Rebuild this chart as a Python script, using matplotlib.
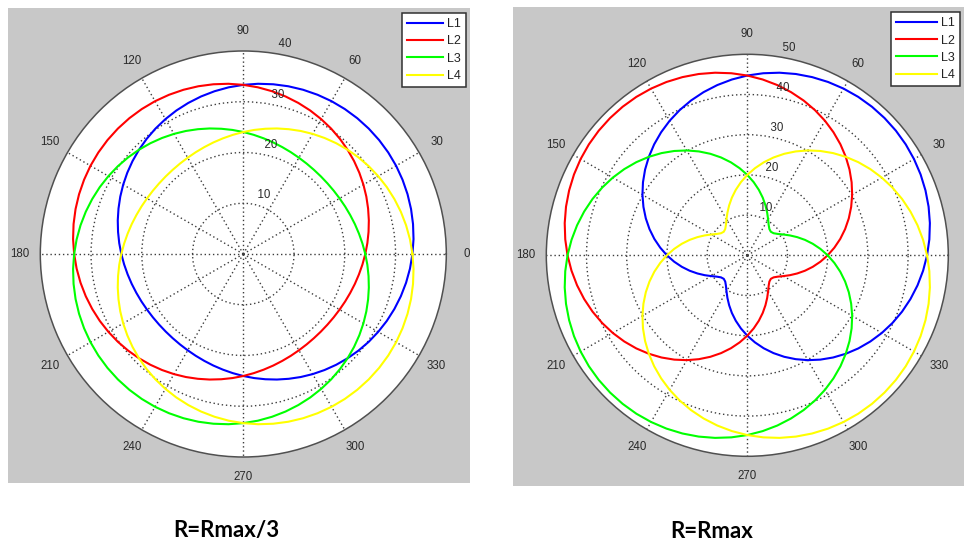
import numpy as np
import matplotlib
matplotlib.use("Agg")
import matplotlib.pyplot as plt
from matplotlib.patches import Rectangle

plt.rcParams['font.family'] = ['Liberation Sans', 'DejaVu Sans']

# ---------------- data ----------------
theta_deg = list(range(0, 360, 5))          # sample angles (deg)
series_names = ['L1', 'L2', 'L3', 'L4']
series_colors = ['#0000ff', '#ff0000', '#00ff00', '#ffff00']
angle_labels_left = list(range(0, 360, 30))
angle_labels_right = list(range(30, 360, 30))   # "0" falls outside the cropped picture
angle_grid = list(range(0, 360, 30))
captions = ['R=Rmax/3', 'R=Rmax']

left_rings = [10, 20, 30, 40]
right_rings = [10, 20, 30, 40, 50]

# R = Rmax/3
left_L1 = [33.33, 33.67, 33.96, 34.22, 34.44, 34.62, 34.77, 34.87, 34.93, 34.95,
           34.93, 34.87, 34.77, 34.62, 34.44, 34.22, 33.96, 33.67, 33.33, 32.97,
           32.57, 32.14, 31.68, 31.20, 30.69, 30.17, 29.62, 29.06, 28.49, 27.91,
           27.33, 26.75, 26.17, 25.61, 25.06, 24.54, 24.04, 23.57, 23.14, 22.76,
           22.42, 22.14, 21.91, 21.75, 21.65, 21.62,
           21.65, 21.75, 21.91, 22.14, 22.42, 22.76, 23.14, 23.57, 24.04, 24.54,
           25.06, 25.61, 26.17, 26.75, 27.33, 27.91, 28.49, 29.06, 29.62, 30.17,
           30.69, 31.20, 31.68, 32.14, 32.57, 32.97]
left_L2 = [24.04, 24.54, 25.06, 25.61, 26.17, 26.75, 27.33, 27.91, 28.49, 29.06,
           29.62, 30.17, 30.69, 31.20, 31.68, 32.14, 32.57, 32.97, 33.33, 33.67,
           33.96, 34.22, 34.44, 34.62, 34.77, 34.87, 34.93, 34.95,
           34.93, 34.87, 34.77, 34.62, 34.44, 34.22, 33.96, 33.67, 33.33, 32.97,
           32.57, 32.14, 31.68, 31.20, 30.69, 30.17, 29.62, 29.06, 28.49, 27.91,
           27.33, 26.75, 26.17, 25.61, 25.06, 24.54, 24.04, 23.57, 23.14, 22.76,
           22.42, 22.14, 21.91, 21.75, 21.65, 21.62,
           21.65, 21.75, 21.91, 22.14, 22.42, 22.76, 23.14, 23.57]
left_L3 = [24.04, 23.57, 23.14, 22.76, 22.42, 22.14, 21.91, 21.75, 21.65, 21.62,
           21.65, 21.75, 21.91, 22.14, 22.42, 22.76, 23.14, 23.57, 24.04, 24.54,
           25.06, 25.61, 26.17, 26.75, 27.33, 27.91, 28.49, 29.06, 29.62, 30.17,
           30.69, 31.20, 31.68, 32.14, 32.57, 32.97, 33.33, 33.67, 33.96, 34.22,
           34.44, 34.62, 34.77, 34.87, 34.93, 34.95,
           34.93, 34.87, 34.77, 34.62, 34.44, 34.22, 33.96, 33.67, 33.33, 32.97,
           32.57, 32.14, 31.68, 31.20, 30.69, 30.17, 29.62, 29.06, 28.49, 27.91,
           27.33, 26.75, 26.17, 25.61, 25.06, 24.54]
left_L4 = [33.33, 32.97, 32.57, 32.14, 31.68, 31.20, 30.69, 30.17, 29.62, 29.06,
           28.49, 27.91, 27.33, 26.75, 26.17, 25.61, 25.06, 24.54, 24.04, 23.57,
           23.14, 22.76, 22.42, 22.14, 21.91, 21.75, 21.65, 21.62,
           21.65, 21.75, 21.91, 22.14, 22.42, 22.76, 23.14, 23.57, 24.04, 24.54,
           25.06, 25.61, 26.17, 26.75, 27.33, 27.91, 28.49, 29.06, 29.62, 30.17,
           30.69, 31.20, 31.68, 32.14, 32.57, 32.97, 33.33, 33.67, 33.96, 34.22,
           34.44, 34.62, 34.77, 34.87, 34.93, 34.95,
           34.93, 34.87, 34.77, 34.62, 34.44, 34.22, 33.96, 33.67]

# R = Rmax
right_L1 = [44.72, 45.46, 46.12, 46.69, 47.17, 47.57, 47.88, 48.11, 48.24, 48.28,
            48.24, 48.11, 47.88, 47.57, 47.17, 46.69, 46.12, 45.46, 44.72, 43.90,
            43.00, 42.02, 40.97, 39.84, 38.64, 37.37, 36.04, 34.64, 33.19, 31.68,
            30.12, 28.51, 26.87, 25.19, 23.48, 21.74, 20.00, 18.26, 16.53, 14.84,
            13.21, 11.70, 10.35, 9.26, 8.54, 8.28,
            8.54, 9.26, 10.35, 11.70, 13.21, 14.84, 16.53, 18.26, 20.00, 21.74,
            23.48, 25.19, 26.87, 28.51, 30.12, 31.68, 33.19, 34.64, 36.04, 37.37,
            38.64, 39.84, 40.97, 42.02, 43.00, 43.90]
right_L2 = [20.00, 21.74, 23.48, 25.19, 26.87, 28.51, 30.12, 31.68, 33.19, 34.64,
            36.04, 37.37, 38.64, 39.84, 40.97, 42.02, 43.00, 43.90, 44.72, 45.46,
            46.12, 46.69, 47.17, 47.57, 47.88, 48.11, 48.24, 48.28,
            48.24, 48.11, 47.88, 47.57, 47.17, 46.69, 46.12, 45.46, 44.72, 43.90,
            43.00, 42.02, 40.97, 39.84, 38.64, 37.37, 36.04, 34.64, 33.19, 31.68,
            30.12, 28.51, 26.87, 25.19, 23.48, 21.74, 20.00, 18.26, 16.53, 14.84,
            13.21, 11.70, 10.35, 9.26, 8.54, 8.28,
            8.54, 9.26, 10.35, 11.70, 13.21, 14.84, 16.53, 18.26]
right_L3 = [20.00, 18.26, 16.53, 14.84, 13.21, 11.70, 10.35, 9.26, 8.54, 8.28,
            8.54, 9.26, 10.35, 11.70, 13.21, 14.84, 16.53, 18.26, 20.00, 21.74,
            23.48, 25.19, 26.87, 28.51, 30.12, 31.68, 33.19, 34.64, 36.04, 37.37,
            38.64, 39.84, 40.97, 42.02, 43.00, 43.90, 44.72, 45.46, 46.12, 46.69,
            47.17, 47.57, 47.88, 48.11, 48.24, 48.28,
            48.24, 48.11, 47.88, 47.57, 47.17, 46.69, 46.12, 45.46, 44.72, 43.90,
            43.00, 42.02, 40.97, 39.84, 38.64, 37.37, 36.04, 34.64, 33.19, 31.68,
            30.12, 28.51, 26.87, 25.19, 23.48, 21.74]
right_L4 = [44.72, 43.90, 43.00, 42.02, 40.97, 39.84, 38.64, 37.37, 36.04, 34.64,
            33.19, 31.68, 30.12, 28.51, 26.87, 25.19, 23.48, 21.74, 20.00, 18.26,
            16.53, 14.84, 13.21, 11.70, 10.35, 9.26, 8.54, 8.28,
            8.54, 9.26, 10.35, 11.70, 13.21, 14.84, 16.53, 18.26, 20.00, 21.74,
            23.48, 25.19, 26.87, 28.51, 30.12, 31.68, 33.19, 34.64, 36.04, 37.37,
            38.64, 39.84, 40.97, 42.02, 43.00, 43.90, 44.72, 45.46, 46.12, 46.69,
            47.17, 47.57, 47.88, 48.11, 48.24, 48.28,
            48.24, 48.11, 47.88, 47.57, 47.17, 46.69, 46.12, 45.46]

left_series = [left_L1, left_L2, left_L3, left_L4]
right_series = [right_L1, right_L2, right_L3, right_L4]
for s in left_series + right_series:
    assert len(s) == len(theta_deg), len(s)

# ---------------- figure ----------------
W, H = 964, 548
fig = plt.figure(figsize=(W / 100, H / 100), dpi=100)
fig.patch.set_facecolor('white')


def px_rect(x0, y0, x1, y1):
    """pixel box (top-left origin) -> figure fraction [l, b, w, h]"""
    return [x0 / W, 1 - y1 / H, (x1 - x0) / W, (y1 - y0) / H]


GRAY = '#c8c8c8'
for (x0, y0, x1, y1) in [(8, 8, 470, 483), (513, 7, 964, 486)]:
    l, b, w, h = px_rect(x0, y0, x1, y1)
    fig.add_artist(Rectangle((l, b), w, h, transform=fig.transFigure,
                             facecolor=GRAY, edgecolor='none', zorder=-5))

TXT = '#2a2a2a'


def draw_panel(box, rings, series, labels):
    rmax = rings[-1]
    ax = fig.add_axes(px_rect(*box), projection='polar')
    ax.set_facecolor('white')
    th = np.deg2rad(np.append(theta_deg, 360))
    handles = []
    for name, col, r in zip(series_names, series_colors, series):
        rr = np.append(r, r[0])
        h, = ax.plot(th, rr, color=col, lw=1.5, label=name,
                     solid_joinstyle='round')
        handles.append(h)
    ax.set_ylim(0, rmax)
    ax.set_yticks(rings[:-1])
    ax.set_yticklabels([])
    ax.set_xticks(np.deg2rad(angle_grid))
    ax.set_xticklabels([])
    ax.tick_params(length=0)
    ax.grid(True, color='#3c3c3c', lw=1.0, ls=(0, (1, 2)))
    ax.spines['polar'].set_color('#505050')
    ax.spines['polar'].set_linewidth(1.1)
    for a in labels:
        ax.text(np.deg2rad(a), 1.1 * rmax, str(a), ha='center', va='center',
                fontsize=8.3, color=TXT, clip_on=False)
    for v in rings:
        ax.text(np.deg2rad(82), v + 0.5, '  ' + str(v), ha='left', va='bottom',
                fontsize=8.3, color=TXT, clip_on=False, zorder=3)
    return ax, handles


axL, hL = draw_panel((40.3, 51, 446.3, 457), left_rings, left_series,
                     angle_labels_left)
axR, hR = draw_panel((546.3, 54.3, 948.3, 456.3), right_rings, right_series,
                     angle_labels_right)

leg_kw = dict(frameon=True, fancybox=False, framealpha=1, edgecolor='#303030',
              fontsize=9, handletextpad=0.3, borderpad=0.42,
              labelspacing=0.42, borderaxespad=0)
legL = fig.legend(hL, series_names, loc='upper right',
                  bbox_to_anchor=(466 / W, 1 - 13 / H), handlelength=2.9, **leg_kw)
legR = fig.legend(hR, series_names, loc='upper left',
                  bbox_to_anchor=(890.7 / W, 1 - 12 / H), handlelength=3.3, **leg_kw)
for lg in (legL, legR):
    lg.get_frame().set_linewidth(1.1)
    for t in lg.get_texts():
        t.set_color('#222222')

fig.text(226 / W, 1 - 531 / H, captions[0], ha='center', va='center',
         fontsize=16, fontweight='bold', family=['Lato', 'DejaVu Sans'])
fig.text(712 / W, 1 - 531 / H, captions[1], ha='center', va='center',
         fontsize=16, fontweight='bold', family=['Lato', 'DejaVu Sans'])

fig.savefig('out.png', dpi=100)
